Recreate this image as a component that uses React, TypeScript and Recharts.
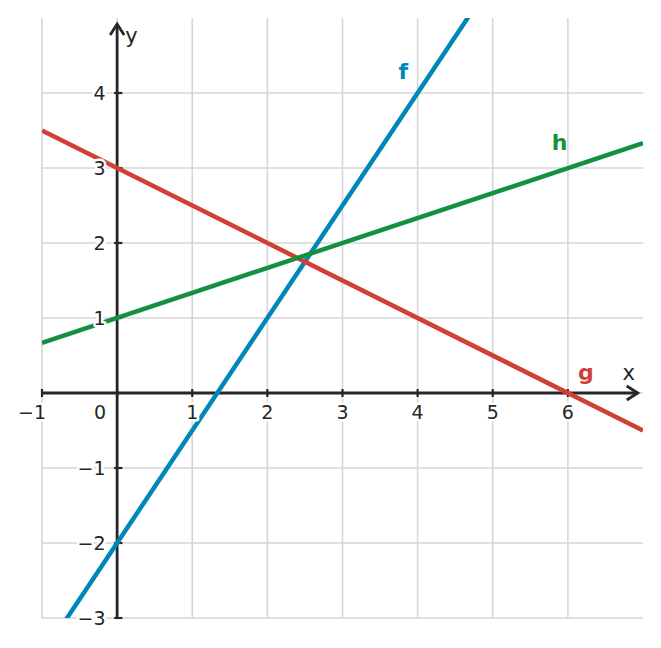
import {
  LineChart,
  Line,
  XAxis,
  YAxis,
  CartesianGrid,
  ReferenceLine,
  ReferenceDot,
} from "recharts";

// endpoints of the three straight lines
const xs = [-1, 7];
const fValues = [-3.5, 8.5];
const gValues = [3.5, -0.5];
const hValues = [0.67, 3.33];

const xTicks = [-1, 0, 1, 2, 3, 4, 5, 6];
const xTickLabels = ["−1", "0", "1", "2", "3", "4", "5", "6"];
const yTicks = [-3, -2, -1, 1, 2, 3, 4];
const yTickLabels = ["−3", "−2", "−1", "1", "2", "3", "4"];

const gridX = [-1, 0, 1, 2, 3, 4, 5, 6];
const gridY = [-3, -2, -1, 0, 1, 2, 3, 4];

const seriesNames = ["f", "g", "h"];
const seriesColors = ["#0087b9", "#d23f37", "#158f40"];
const nameX = [3.81, 6.24, 5.89];
const nameY = [4.29, 0.28, 3.35];

const data = xs.map((x, i) => ({ x, f: fValues[i], g: gValues[i], h: hValues[i] }));

const AXIS = "#262626";
const FONT = "DejaVu Sans";

const XAxisArrow = (p: any) => {
  const { x1, y1, x2, y2 } = p;
  return (
    <g>
      <line x1={x1} y1={y1} x2={x2} y2={y2} stroke={AXIS} strokeWidth={2.8} />
      <polyline
        points={`${x2 - 11},${y2 - 7} ${x2},${y2} ${x2 - 11},${y2 + 7}`}
        fill="none"
        stroke={AXIS}
        strokeWidth={2.8}
      />
    </g>
  );
};

const YAxisArrow = (p: any) => {
  const { x1, y1, x2, y2 } = p;
  const tx = y1 < y2 ? x1 : x2;
  const ty = Math.min(y1, y2);
  return (
    <g>
      <line x1={x1} y1={y1} x2={x2} y2={y2} stroke={AXIS} strokeWidth={2.8} />
      <polyline
        points={`${tx - 7},${ty + 11} ${tx},${ty} ${tx + 7},${ty + 11}`}
        fill="none"
        stroke={AXIS}
        strokeWidth={2.8}
      />
    </g>
  );
};

// tick labels sit on a white halo that cuts the lines behind them
const haloStyle = {
  fontFamily: FONT,
  fontSize: 19,
  fill: "#262626",
  stroke: "#ffffff",
  strokeWidth: 5,
  strokeLinejoin: "round" as const,
  paintOrder: "stroke",
} as any;

export default function App() {
  return (
    <div style={{ position: "absolute", left: 0, top: 0 }}>
      <LineChart
        width={661}
        height={648}
        data={data}
        margin={{ top: 18, right: 18, bottom: 30, left: 42 }}
      >
        <XAxis type="number" dataKey="x" domain={[-1, 7]} hide allowDataOverflow />
        <YAxis type="number" domain={[-3, 5]} hide allowDataOverflow />
        <CartesianGrid
          stroke="#d6d6d6"
          strokeWidth={1.6}
          verticalValues={gridX}
          horizontalValues={gridY}
        />

        <ReferenceLine
          segment={[{ x: -1, y: 0 }, { x: 6.93, y: 0 }]}
          shape={XAxisArrow}
          zIndex={350}
        />
        <ReferenceLine
          segment={[{ x: 0, y: -3 }, { x: 0, y: 4.92 }]}
          shape={YAxisArrow}
          zIndex={350}
        />
        {xTicks.map((t) => (
          <ReferenceLine
            key={"xt" + t}
            segment={[{ x: t, y: -0.053 }, { x: t, y: 0.053 }]}
            stroke={AXIS}
            strokeWidth={2.2}
            zIndex={350}
          />
        ))}
        {yTicks.map((t) => (
          <ReferenceLine
            key={"yt" + t}
            segment={[{ x: -0.04, y: t }, { x: 0.07, y: t }]}
            stroke={AXIS}
            strokeWidth={2.2}
            zIndex={350}
          />
        ))}

        {seriesNames.map((s, i) => (
          <Line
            key={s}
            type="linear"
            dataKey={s}
            stroke={seriesColors[i]}
            strokeWidth={4.5}
            dot={false}
            activeDot={false}
            isAnimationActive={false}
            zIndex={400}
          />
        ))}

        {xTicks.map((t, i) => (
          <ReferenceDot
            key={"xl" + t}
            x={t}
            y={0}
            r={0}
            zIndex={2000}
            shape={(p: any) => (
              <text
                x={p.cx + (t === 0 ? -17 : t === -1 ? -10 : 0)}
                y={p.cy + 26}
                textAnchor="middle"
                style={haloStyle}
              >
                {xTickLabels[i]}
              </text>
            )}
          />
        ))}
        {yTicks.map((t, i) => (
          <ReferenceDot
            key={"yl" + t}
            x={0}
            y={t}
            r={0}
            zIndex={2000}
            shape={(p: any) => (
              <text x={p.cx - 11.5} y={p.cy + 7} textAnchor="end" style={haloStyle}>
                {yTickLabels[i]}
              </text>
            )}
          />
        ))}

        <ReferenceDot
          x={6.81}
          y={0.25}
          r={0}
          zIndex={2000}
          shape={(p: any) => (
            <text x={p.cx} y={p.cy + 6} textAnchor="middle" fontFamily={FONT} fontSize={21} fill={AXIS}>
              x
            </text>
          )}
        />
        <ReferenceDot
          x={0.19}
          y={4.75}
          r={0}
          zIndex={2000}
          shape={(p: any) => (
            <text x={p.cx} y={p.cy + 6} textAnchor="middle" fontFamily={FONT} fontSize={21} fill={AXIS}>
              y
            </text>
          )}
        />
        {seriesNames.map((s, i) => (
          <ReferenceDot
            key={"n" + s}
            x={nameX[i]}
            y={nameY[i]}
            r={0}
            zIndex={2000}
            shape={(p: any) => (
              <text
                x={p.cx}
                y={p.cy + 8}
                textAnchor="middle"
                fontFamily={FONT}
                fontWeight="bold"
                fontSize={22}
                fill={seriesColors[i]}
              >
                {s}
              </text>
            )}
          />
        ))}
      </LineChart>
    </div>
  );
}
